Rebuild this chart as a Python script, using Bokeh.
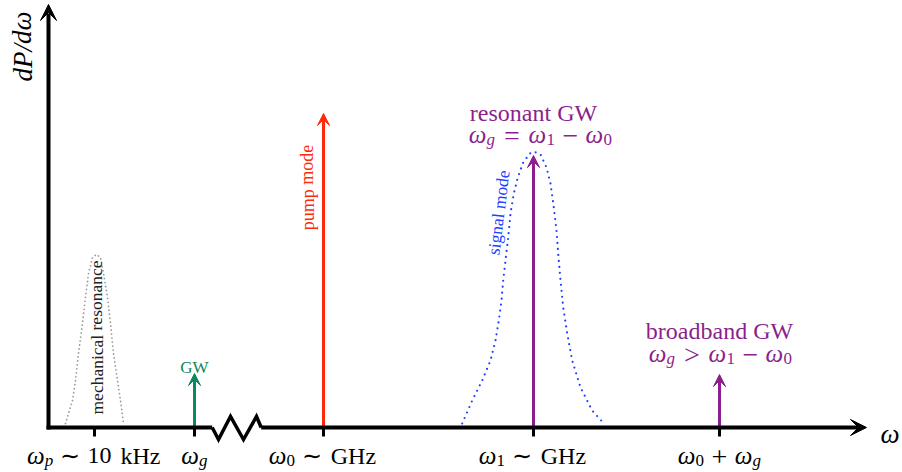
from bokeh.plotting import figure
from bokeh.models import ColumnDataSource, Range1d, Arrow, VeeHead
from bokeh.core.properties import value, field
from bokeh.embed import file_html
from bokeh.resources import INLINE

# ---------------- data (schematic units: px from the axes' origin) ----------------
tick_x = [46, 146, 275, 485, 671]
tick_labels = [
    [("ω", "i"), ("p", "si"), ("∼", "rel"), ("10", "r"), (" ", "sp"), ("kHz", "r")],
    [("ω", "i"), ("g", "si")],
    [("ω", "i"), ("0", "s"), ("∼", "rel"), ("GHz", "r")],
    [("ω", "i"), ("1", "s"), ("∼", "rel"), ("GHz", "r")],
    [("ω", "i"), ("0", "s"), ("+", "bin"), ("ω", "i"), ("g", "si")],
]

arrow_x = [146, 275, 485, 671]
arrow_h = [54, 314, 272, 53]
arrow_col = ["#0a8a5c", "#ff2a0c", "#8c1f8e", "#8c1f8e"]

mech_x = [17, 20, 24, 27, 30, 34, 37, 40, 44, 48, 52, 55, 59, 62, 65, 69, 72, 75]
mech_y = [4, 14, 27, 47, 74, 104, 130, 154, 170, 173, 170, 154, 130, 104, 74, 47, 27, 4]

sig_x = [413.7, 423.7, 433.7, 442, 447, 450.3, 453, 454.7, 457, 459.7, 462, 465.3, 469.3,
         474.7, 481.3, 485.3, 492, 498, 502, 505.3, 508, 509.7, 512, 514.7, 518.7, 523.7,
         532, 543.7, 555.3]
sig_y = [4, 27, 47, 67, 87, 107, 127, 147, 167, 190, 214, 234, 250, 265, 274, 276, 273,
         260, 244, 220, 197, 174, 147, 120, 94, 67, 40, 17, 4]

break_x = [163.7, 170, 182, 195, 208, 212.7]
break_y = [0, -12, 11, -12, 11, 0]

PURPLE = "#8c1f8e"
FONT = "Liberation Serif"

p = figure(width=902, height=472, x_range=Range1d(-48, 854), y_range=Range1d(-45, 427),
           output_backend="svg", toolbar_location=None, min_border=0,
           x_axis_location=None, y_axis_location=None)
p.grid.visible = False
p.outline_line_color = None
p.background_fill_color = "white"

# resonance curves
p.line(mech_x, mech_y, line_color="#9a9a9a", line_width=1.8, line_dash="0 4", line_cap="round")
p.line(sig_x, sig_y, line_color="#2040ff", line_width=2.2, line_dash="0 6", line_cap="round")

# colored arrows: shafts as glyphs, heads as annotations
HEAD = 12
for x, h, c in zip(arrow_x, arrow_h, arrow_col):
    p.segment(x0=[x], y0=[0], x1=[x], y1=[h - 6], line_color=c, line_width=3)
    p.add_layout(Arrow(end=VeeHead(size=HEAD, fill_color=c, line_color=c, line_width=1),
                       x_start=x, y_start=h - 10, x_end=x, y_end=h,
                       line_alpha=0, line_width=3))

# axes
p.segment(x0=[0], y0=[-2], x1=[0], y1=[414], line_color="black", line_width=4)
p.add_layout(Arrow(end=VeeHead(size=16, fill_color="black", line_color="black"),
                   x_start=0, y_start=404, x_end=0, y_end=423, line_alpha=0))
p.segment(x0=[-2, break_x[-1]], y0=[0, 0], x1=[break_x[0], 810], y1=[0, 0],
          line_color="black", line_width=4)
p.add_layout(Arrow(end=VeeHead(size=16, fill_color="black", line_color="black"),
                   x_start=800, y_start=0, x_end=818, y_end=0, line_alpha=0))
p.line(break_x, break_y, line_color="black", line_width=3.5, line_join="miter")
p.segment(x0=tick_x, y0=[0] * len(tick_x), x1=tick_x, y1=[-9] * len(tick_x),
          line_color="black", line_width=3)

# ---------------- math-like labels assembled from pieces ----------------
ROMAN_W = {"0": .5, "1": .5, "k": .528, "H": .75, "z": .444, "G": .785}
rows = dict(x=[], y=[], text=[], size=[], style=[], color=[])


def add_math(pieces, xc, yb, color, M=25):
    slots = []
    for txt, kind in pieces:
        if kind == "i":
            w = .70
        elif kind in ("s", "si"):
            w = .36 * len(txt)
        elif kind == "rel":
            w = .778 + 2 * .278
        elif kind == "bin":
            w = .778 + 2 * .222
        elif kind == "sp":
            w = .28
        else:
            w = sum(ROMAN_W.get(ch, .5) for ch in txt)
        slots.append(w * M)
    x = xc - sum(slots) / 2
    for (txt, kind), w in zip(pieces, slots):
        if kind != "sp":
            sub = kind in ("s", "si")
            op = kind in ("rel", "bin") and txt != "∼"
            rows["x"].append(x + w / 2)
            rows["y"].append(yb - 5 if sub else (yb - 1 if op else yb))
            rows["text"].append(txt)
            rows["size"].append("17px" if sub else ("25px" if kind == "i" else
                                                    ("28px" if op else "24px")))
            rows["style"].append("italic" if kind in ("i", "si") else "normal")
            rows["color"].append(color)
        x += w


for tx, pieces in zip(tick_x, tick_labels):
    add_math(pieces, tx, -28, "black")

add_math([("ω", "i"), ("g", "si"), ("=", "rel"), ("ω", "i"), ("1", "s"), ("−", "bin"),
          ("ω", "i"), ("0", "s")], 492, 293, PURPLE)
add_math([("ω", "i"), ("g", "si"), (">", "rel"), ("ω", "i"), ("1", "s"), ("−", "bin"),
          ("ω", "i"), ("0", "s")], 672, 74, PURPLE)

p.text(x="x", y="y", text="text", source=ColumnDataSource(rows),
       text_font=value(FONT), text_font_size=field("size"), text_font_style=field("style"),
       text_color=field("color"), text_align="center", text_baseline="alphabetic")

# plain text labels
p.text(x=[485], y=[315], text=["resonant GW"], text_font=value(FONT), text_font_size="24px",
       text_color=PURPLE, text_align="center", text_baseline="alphabetic")
p.text(x=[671], y=[97], text=["broadband GW"], text_font=value(FONT), text_font_size="24px",
       text_color=PURPLE, text_align="center", text_baseline="alphabetic")
p.text(x=[146], y=[60], text=["GW"], text_font=value(FONT), text_font_size="17px",
       text_color="#0a8a5c", text_align="center", text_baseline="alphabetic")
p.text(x=[48], y=[90], text=["mechanical resonance"], angle=1.5708, text_font=value(FONT),
       text_font_size="17.5px", text_color="#222222", text_align="center", text_baseline="middle")
p.text(x=[259], y=[240], text=["pump mode"], angle=1.5708, text_font=value(FONT),
       text_font_size="18px", text_color="#ff2a0c", text_align="center", text_baseline="middle")
p.text(x=[450], y=[215], text=["signal mode"], angle=1.45, text_font=value(FONT),
       text_font_size="17.5px", text_color="#2040ff", text_align="center", text_baseline="middle")

# axis titles
p.text(x=[-26], y=[381], text=["dP/dω"], angle=1.5708, text_font=value(FONT),
       text_font_size="27px", text_font_style="italic", text_color="black",
       text_align="center", text_baseline="middle")
p.text(x=[832], y=[-6], text=["ω"], text_font=value(FONT), text_font_size="27px",
       text_font_style="italic", text_color="black", text_align="left",
       text_baseline="alphabetic")

open("out.html", "w").write(file_html(p, INLINE))
